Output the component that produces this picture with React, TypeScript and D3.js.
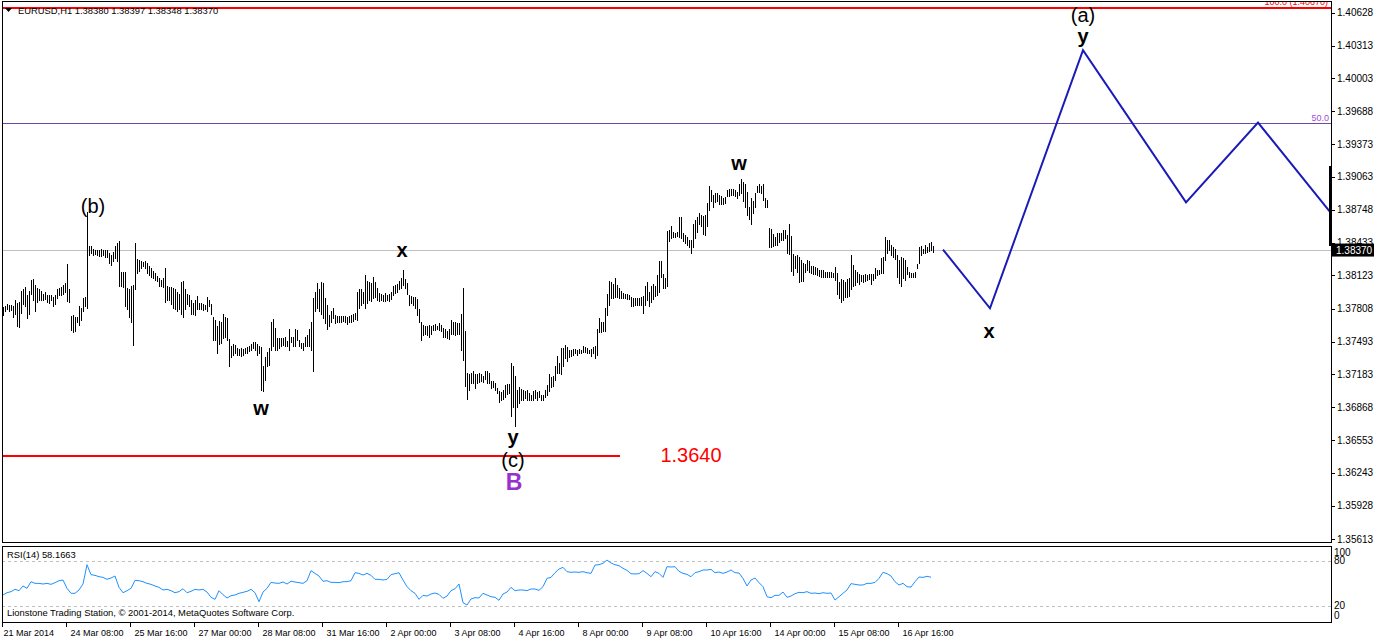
import React from "react";
import * as d3 from "d3";

// ---- data: EURUSD H1 bars, prices in pips above PRICE_BASE ----
const PRICE_BASE = 1.35;
const PIP = 0.0001;

const highs21to25Mar = [
  282,283,285,284,284,283,289,286,287,298,
  299,301,294,298,308,309,303,300,299,298,
  295,297,294,294,294,292,294,299,300,301,
  303,305,323,299,274,275,273,273,283,281,
  291,292,373,340,340,338,337,337,337,338,
  337,337,337,334,332,335,340,343,345,316,
  316,316,300,299,302,303,343,328,327,326,
  325,326,324,321,319,317,315,312,310,308,
  310,319,302,301,301,300,299,297,295,306,
  307,299,295,294,289,286,289,293,286,286,
  285,284,292,289,285,273,270,264,269,268,
  276,273,272,252,245,247,246,243,242,243,
];
const lows21to25Mar = [
  275,278,280,278,279,273,276,264,263,277,
  285,283,272,276,295,289,278,287,289,289,
  289,290,287,286,289,283,285,291,294,294,
  295,297,288,287,260,258,259,268,265,270,
  278,283,281,332,334,332,333,332,331,331,
  332,330,330,324,322,326,329,326,302,302,
  301,283,280,273,268,246,299,315,317,319,
  321,319,315,313,311,310,308,307,302,302,
  301,287,289,289,285,281,280,278,280,276,
  273,280,285,283,276,276,275,280,280,280,
  279,280,278,283,276,251,251,238,247,248,
  253,254,251,226,235,237,238,237,237,236,
];
const highs27Mar3Apr = [
  242,243,244,245,247,249,249,247,245,244,
  226,235,239,243,268,271,262,253,253,253,
  253,254,250,261,254,254,261,260,251,248,
  248,254,256,261,268,291,297,305,299,306,
  305,291,284,275,278,281,275,274,274,274,
  274,274,273,274,275,276,277,297,299,299,
  297,313,307,306,305,311,306,300,296,295,
  294,296,294,295,297,302,303,304,307,310,
  318,309,305,294,293,292,292,290,280,268,
  265,264,264,265,264,265,266,264,267,265,
  262,261,259,261,270,268,268,267,267,276,
  300,259,219,218,219,221,218,
];
const lows27Mar3Apr = [
  237,238,238,240,241,243,241,237,238,203,
  202,213,226,227,241,245,241,241,243,245,
  246,245,245,241,249,245,245,251,245,243,
  241,245,245,245,241,221,278,281,278,276,
  272,267,261,264,268,272,267,268,268,268,
  269,268,266,268,268,269,271,270,281,284,
  286,281,286,289,288,291,292,289,288,289,
  288,288,289,288,290,294,296,297,299,300,
  303,300,295,284,286,284,281,275,268,251,
  256,257,256,254,257,260,260,261,260,259,
  254,254,253,252,257,257,256,257,257,241,
  232,207,195,203,210,210,205,
];
const highs3to10Apr = [
  218,219,218,217,221,221,219,212,212,210,
  205,202,201,203,208,209,209,229,226,217,
  203,206,204,203,202,203,200,198,202,203,
  201,202,198,198,203,208,218,216,217,226,
  236,229,243,243,246,244,241,241,242,242,
  241,242,241,245,244,243,241,242,244,245,
  261,272,268,268,281,295,307,306,304,310,
  303,300,298,296,295,295,294,292,291,291,
  291,291,292,293,302,306,297,302,304,302,
  313,326,326,314,310,355,356,359,354,353,
  354,368,368,353,351,349,346,346,361,365,
  368,372,370,369,370,381,398,394,
];
const lows3to10Apr = [
  210,211,212,211,214,210,210,205,206,203,
  200,192,194,195,197,199,200,178,187,169,
  187,191,194,194,196,194,194,194,194,196,
  194,197,194,194,197,198,202,206,207,213,
  219,219,218,226,234,231,235,236,237,238,
  237,238,238,239,239,238,238,236,238,234,
  237,258,258,259,259,275,284,291,291,292,
  292,291,291,291,291,290,290,283,283,284,
  284,284,284,277,284,289,283,287,290,293,
  294,297,311,300,300,302,345,348,349,349,
  350,349,348,345,343,341,339,334,339,348,
  354,361,359,352,351,359,375,383,
];
const highs10to16Apr = [
  389,391,391,389,388,386,387,394,395,395,
  395,394,392,399,404,401,399,392,378,386,
  383,391,398,399,398,399,386,384,358,357,
  352,349,353,353,353,356,356,351,361,350,
  333,331,332,330,327,324,323,327,326,321,
  321,320,319,318,318,318,316,316,316,316,
  315,320,315,306,309,308,306,309,310,332,
  322,318,316,314,313,313,314,313,314,314,
  314,319,318,318,329,330,349,346,346,341,
  339,338,332,327,330,329,327,320,316,315,
  315,316,323,339,340,338,341,339,343,344,
  340,
];
const lows10to16Apr = [
  378,382,383,380,380,380,381,388,388,389,
  389,388,386,389,391,383,378,370,366,361,
  372,378,392,392,391,384,378,378,339,339,
  340,341,341,344,346,346,348,334,333,317,
  313,319,316,306,307,307,316,318,316,315,
  314,314,313,312,311,311,311,311,311,311,
  311,308,295,291,287,289,292,292,293,299,
  302,303,306,304,307,306,307,308,309,304,
  308,310,313,314,315,315,327,334,337,332,
  330,328,311,305,302,310,308,314,311,311,
  311,311,319,324,332,334,334,335,336,337,
  335,
];

// RSI(14), one reading every RSI_STEP bars
const RSI_STEP = 2;
const rsi21Mar3Apr = [
  34.6,37.6,39.0,42.1,40.3,46.5,43.4,52.2,50.0,50.0,
  49.1,50.0,48.7,50.9,53.5,54.4,43.4,36.8,36.8,41.2,
  49.1,74.7,61.5,60.6,58.8,57.9,55.3,57.1,59.7,44.7,
  37.6,40.3,43.4,54.0,53.5,52.2,50.0,48.7,46.5,44.7,
  41.2,42.1,40.3,37.6,39.0,42.9,37.6,39.4,42.1,41.2,
  42.1,38.5,31.5,28.8,40.3,35.0,30.6,33.7,34.6,36.8,
  38.1,39.4,42.1,37.6,25.7,38.5,43.4,51.3,50.4,50.0,
  51.8,49.1,52.7,51.8,50.9,50.0,53.5,66.8,63.2,59.7,
  52.7,53.5,51.3,51.3,50.9,52.2,52.2,53.5,64.1,63.2,
  61.0,63.2,60.6,55.3,55.3,54.4,55.3,61.5,62.8,64.1,
  54.4,45.6,40.3,36.8,28.8,34.1,33.2,35.9,37.2,35.4,
  30.1,33.2,40.3,42.9,49.1,
];
const rsi3to16Apr = [
  24.4,21.3,29.3,31.0,30.6,36.8,34.6,32.3,31.5,27.5,
  35.9,38.5,44.7,40.3,41.2,41.2,40.3,42.5,42.5,40.7,
  45.6,56.6,57.9,64.1,69.0,71.2,65.5,64.6,65.0,64.6,
  65.5,64.1,63.2,74.3,74.7,76.5,80.9,76.9,74.7,73.4,
  69.9,67.2,62.8,62.4,62.8,66.8,63.2,58.8,65.5,63.2,
  57.9,72.1,71.6,72.1,65.9,63.2,61.9,58.8,64.1,65.5,
  67.7,67.7,68.5,64.1,65.0,63.2,65.0,67.7,64.1,63.7,
  56.6,46.5,54.4,57.1,50.9,45.6,32.3,31.0,34.1,34.1,
  38.5,31.5,33.2,36.3,38.1,37.6,39.0,36.8,37.2,36.3,
  37.6,36.8,37.2,27.9,32.3,36.8,41.2,49.6,48.7,47.8,
  47.8,50.0,50.0,51.3,56.6,64.6,62.8,59.7,52.2,47.8,
  50.0,45.6,45.1,52.2,58.4,57.9,59.3,58.1663,
];

// axes
const priceTicks = [1.40628,1.40313,1.40003,1.39688,1.39373,1.39063,1.38748,1.38433,1.38123,1.37808,1.37493,1.37183,1.36868,1.36553,1.36243,1.35928,1.35613];
const timeLabels = ["21 Mar 2014","24 Mar 08:00","25 Mar 16:00","27 Mar 00:00","28 Mar 08:00","31 Mar 16:00","2 Apr 00:00","3 Apr 08:00","4 Apr 16:00","8 Apr 00:00","9 Apr 08:00","10 Apr 16:00","14 Apr 00:00","15 Apr 08:00","16 Apr 16:00"];
const TIME_LABEL_STEP = 32;
const rsiLevels = [80, 20];
const rsiAxisLabels = [100, 80, 20, 0];

// wave projection (bar index, price)
const waveBars = [470, 493.5, 540, 591.5, 627.5, 663.5];
const wavePrices = [1.3837, 1.3781, 1.4027, 1.3882, 1.3958, 1.3873];

// levels
const CURRENT_PRICE = 1.3837;
const FIB_100 = 1.4067;
const FIB_50 = 1.3958;
const TARGET_PRICE = 1.364;
const TARGET_END_BAR = 308.5;
const MARKER_TOP = 1.39166;
const MARKER_BOTTOM = 1.38404;

// annotations: text, bar, price (baseline)
const waveLabels = [
  { t: "(b)", bar: 45, p: 1.38718, kind: "paren" },
  { t: "w", bar: 129, p: 1.36794, kind: "bold" },
  { t: "x", bar: 199.5, p: 1.38299, kind: "bold" },
  { t: "y", bar: 255, p: 1.36518, kind: "bold" },
  { t: "(c)", bar: 255, p: 1.36299, kind: "paren" },
  { t: "B", bar: 255.5, p: 1.3608, kind: "big" },
  { t: "w", bar: 368, p: 1.39128, kind: "bold" },
  { t: "x", bar: 493, p: 1.37528, kind: "bold" },
  { t: "(a)", bar: 540, p: 1.40538, kind: "paren" },
  { t: "y", bar: 540, p: 1.40337, kind: "bold" },
];

const W = 1374;
const H = 640;
const LEFT = 2;
const RIGHT = 1331;
const MAIN_TOP = 1;
const MAIN_BOTTOM = 542;
const RSI_TOP = 546;
const RSI_BOTTOM = 622;
const SLOTS = 664;
const FONT = "'Liberation Sans', Arial, sans-serif";

export default function App() {
  const barHigh = [...highs21to25Mar, ...highs27Mar3Apr, ...highs3to10Apr, ...highs10to16Apr];
  const barLow = [...lows21to25Mar, ...lows27Mar3Apr, ...lows3to10Apr, ...lows10to16Apr];
  const rsi = [...rsi21Mar3Apr, ...rsi3to16Apr];

  const x = d3.scaleLinear().domain([0, SLOTS]).range([3, 3 + 2 * SLOTS]);
  const y = d3.scaleLinear().domain([1.35613, 1.40628]).range([539, 12.5]);
  const yr = d3.scaleLinear().domain([0, 100]).range([621.1, 545.6]);
  const px = (v: number) => PRICE_BASE + v * PIP;
  const bx = (i: number) => Math.round(x(i)) + 0.5;

  const rsiLine = d3
    .line<number>()
    .x((_, j) => x(j * RSI_STEP))
    .y((v) => yr(v))(rsi) as string;

  const waveLine = d3
    .line<number>()
    .x((b) => x(b))
    .y((_, j) => y(wavePrices[j]))(waveBars) as string;

  const crisp = (v: number) => Math.round(v) + 0.5;

  return (
    <svg
      width={W}
      height={H}
      style={{ position: "absolute", left: 0, top: 0, background: "#fff" }}
      fontFamily={FONT}
    >
      <rect x={0} y={0} width={W} height={H} fill="#fff" />
      <defs>
        <clipPath id="mainClip">
          <rect x={LEFT + 1} y={MAIN_TOP} width={RIGHT - LEFT - 1} height={MAIN_BOTTOM - MAIN_TOP} />
        </clipPath>
      </defs>

      {/* main panel */}
      <g clipPath="url(#mainClip)">
        <line x1={LEFT} x2={RIGHT} y1={crisp(y(CURRENT_PRICE))} y2={crisp(y(CURRENT_PRICE))} stroke="#c0c0c0" strokeWidth={1} />
        <line x1={LEFT} x2={RIGHT} y1={crisp(y(FIB_50))} y2={crisp(y(FIB_50))} stroke="#6d4aa8" strokeWidth={1} />
        <line x1={LEFT} x2={RIGHT} y1={Math.round(y(FIB_100))} y2={Math.round(y(FIB_100))} stroke="#ff0000" strokeWidth={2} />
        <text x={RIGHT - 3} y={5} fontSize={9} fill="#ff0000" textAnchor="end">100.0 (1.40670)</text>
        <text x={RIGHT - 2} y={crisp(y(FIB_50)) - 3} fontSize={9} fill="#9a50d8" textAnchor="end">50.0</text>

        {barHigh.map((h, i) => (
          <line key={i} x1={bx(i)} x2={bx(i)} y1={Math.round(y(px(h)))} y2={Math.round(y(px(barLow[i]))) + 1} stroke="#000" strokeWidth={1} />
        ))}

        <line x1={x(0)} x2={x(TARGET_END_BAR)} y1={Math.round(y(TARGET_PRICE))} y2={Math.round(y(TARGET_PRICE))} stroke="#ff0000" strokeWidth={2} />
        <text x={x(344)} y={y(TARGET_PRICE) + 6} fontSize={20} fill="#ff0000" textAnchor="middle">1.3640</text>

        <path d={waveLine} fill="none" stroke="#1a1ab8" strokeWidth={2} />

        {waveLabels.map((a, i) => (
          <text
            key={i}
            x={x(a.bar)}
            y={y(a.p)}
            textAnchor="middle"
            fontSize={a.kind === "big" ? 23 : 20}
            fontWeight={a.kind === "paren" ? "normal" : "bold"}
            fill={a.kind === "big" ? "#9932cc" : "#000"}
          >
            {a.t}
          </text>
        ))}

        <path d="M5,8 L12,8 L8.5,12 Z" fill="#000" />
        <text x={18} y={14} fontSize={9.4} fill="#000">EURUSD,H1  1.38380 1.38397 1.38348 1.38370</text>
      </g>

      <rect x={RIGHT - 2} y={y(MARKER_TOP)} width={3} height={y(MARKER_BOTTOM) - y(MARKER_TOP)} fill="#000" />

      <rect x={LEFT + 0.5} y={MAIN_TOP + 0.5} width={RIGHT - LEFT} height={MAIN_BOTTOM - MAIN_TOP} fill="none" stroke="#000" />

      {priceTicks.map((p) => (
        <g key={p}>
          <line x1={RIGHT + 1} x2={RIGHT + 4} y1={crisp(y(p))} y2={crisp(y(p))} stroke="#000" />
          <text x={RIGHT + 6} y={y(p) + 3.5} fontSize={10} fill="#000">{p.toFixed(5)}</text>
        </g>
      ))}
      <rect x={RIGHT + 1} y={y(CURRENT_PRICE) - 6} width={W - RIGHT - 1} height={13} fill="#000" />
      <text x={RIGHT + 5} y={y(CURRENT_PRICE) + 4} fontSize={10} fill="#fff">{CURRENT_PRICE.toFixed(5)}</text>

      <defs>
        <clipPath id="rsiClip">
          <rect x={LEFT + 1} y={RSI_TOP + 1} width={RIGHT - LEFT - 1} height={RSI_BOTTOM - RSI_TOP - 1} />
        </clipPath>
      </defs>
      <g clipPath="url(#rsiClip)">
        {rsiLevels.map((l) => (
          <line key={l} x1={LEFT} x2={RIGHT} y1={crisp(yr(l))} y2={crisp(yr(l))} stroke="#c0c0c0" strokeDasharray="3,3" />
        ))}
        <path d={rsiLine} fill="none" stroke="#1e90ff" strokeWidth={1} />
        <text x={7} y={558} fontSize={9.4} fill="#000">RSI(14) 58.1663</text>
        <text x={7} y={616} fontSize={9.4} fill="#000">Lionstone Trading Station, © 2001-2014, MetaQuotes Software Corp.</text>
      </g>
      <rect x={LEFT + 0.5} y={RSI_TOP + 0.5} width={RIGHT - LEFT} height={RSI_BOTTOM - RSI_TOP} fill="none" stroke="#000" />
      {rsiAxisLabels.map((l, i) => (
        <text key={l} x={RIGHT + 3} y={[556, 564, 609, 619][i]} fontSize={10} fill="#000">{l}</text>
      ))}

      {timeLabels.map((t, i) => {
        const tx = Math.round(x(i * TIME_LABEL_STEP)) - 0.5;
        return (
          <g key={t}>
            <line x1={tx} x2={tx} y1={RSI_BOTTOM} y2={RSI_BOTTOM + 5} stroke="#000" />
            <text x={i === 0 ? tx + 1 : tx + 4} y={636} fontSize={9} fill="#000">{t}</text>
          </g>
        );
      })}
    </svg>
  );
}
